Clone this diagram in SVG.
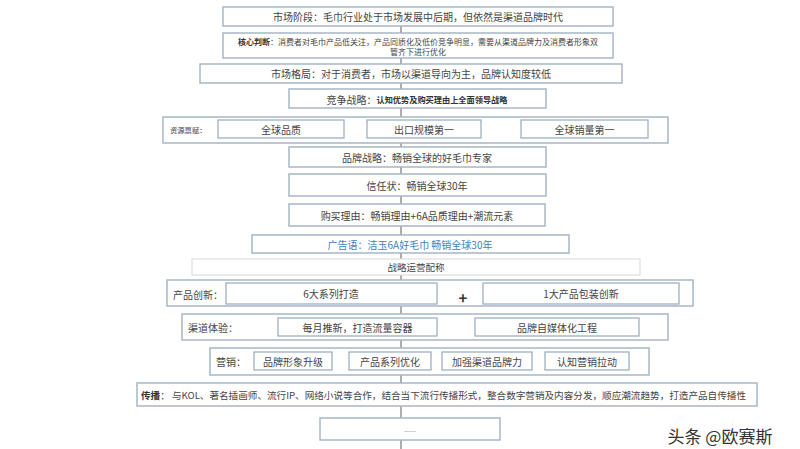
<svg xmlns="http://www.w3.org/2000/svg" width="800" height="449" viewBox="0 0 800 449">
<style>
text{font-family:"Noto Sans CJK SC","Noto Sans",sans-serif;fill:#444;text-anchor:middle;dominant-baseline:central}
.b{fill:#fff;stroke:#a7b6c6;stroke-width:1.5}
.bi{fill:#fff;stroke:#9fb0c3;stroke-width:1.3}
.bl{fill:#fff;stroke:#dedede;stroke-width:1.2}
.t10{font-size:10px}
.t8{font-size:8.2px}
.bold{font-weight:bold;fill:#333}
.lbl{text-anchor:start}
.conn line{stroke:#777;stroke-width:1.2}
</style>
<rect width="800" height="449" fill="#fff"/>
<g class="conn">
<line x1="401" y1="26" x2="401" y2="33"/>
<line x1="401" y1="58" x2="401" y2="64"/>
<line x1="401" y1="83" x2="401" y2="89"/>
<line x1="401" y1="108" x2="401" y2="117"/>
<line x1="401" y1="143" x2="401" y2="147"/>
<line x1="401" y1="167" x2="401" y2="174"/>
<line x1="401" y1="196" x2="401" y2="204"/>
<line x1="401" y1="226" x2="401" y2="235"/>
<line x1="401" y1="253" x2="401" y2="259"/>
<line x1="401" y1="275" x2="401" y2="280"/>
<line x1="401" y1="306" x2="401" y2="314"/>
<line x1="401" y1="340" x2="401" y2="348"/>
<line x1="401" y1="375" x2="401" y2="383"/>
<line x1="401" y1="406" x2="401" y2="418"/>
<line x1="401" y1="440" x2="401" y2="449"/>
</g>
<g id="n-stage">
<rect class="b" x="223" y="7" width="390" height="19"/>
<text class="t10" x="418" y="16.5">市场阶段：毛巾行业处于市场发展中后期，但依然是渠道品牌时代</text>
</g>
<g id="n-core">
<rect class="b" x="223" y="33" width="390" height="25"/>
<text x="418" y="41" style="font-size:8px"><tspan class="bold">核心判断</tspan>：消费者对毛巾产品低关注，产品同质化及低价竞争明显，需要从渠道品牌力及消费者形象双</text>
<text x="418" y="51.5" style="font-size:8px">管齐下进行优化</text>
</g>
<g id="n-pattern">
<rect class="b" x="200" y="64" width="422" height="19"/>
<text class="t10" x="411" y="73.5">市场格局：对于消费者，市场以渠道导向为主，品牌认知度较低</text>
</g>
<g id="n-compete">
<rect class="b" x="289" y="89" width="257" height="19"/>
<text x="417" y="98.5"><tspan class="t10">竞争战略：</tspan><tspan class="t8 bold">认知优势及购买理由上全面领导战略</tspan></text>
</g>
<g id="n-resource">
<rect class="b" x="163" y="117" width="505" height="26"/>
<text class="lbl" x="170" y="130" style="font-size:7.3px">资源禀赋：</text>
<rect class="bi" x="218" y="120" width="126" height="18"/>
<text class="t10" x="281" y="129">全球品质</text>
<rect class="bi" x="367" y="120" width="114" height="18"/>
<text class="t10" x="424" y="129">出口规模第一</text>
<rect class="bi" x="521" y="120" width="127" height="18"/>
<text class="t10" x="584.5" y="129">全球销量第一</text>
</g>
<g id="n-brand">
<rect class="b" x="289" y="147" width="257" height="20"/>
<text class="t10" x="417" y="157">品牌战略：畅销全球的好毛巾专家</text>
</g>
<g id="n-trust">
<rect class="b" x="289" y="174" width="257" height="22"/>
<text class="t10" x="417" y="185">信任状：畅销全球30年</text>
</g>
<g id="n-reason">
<rect class="b" x="289" y="204" width="256" height="22"/>
<text class="t10" x="417" y="215">购买理由：畅销理由+6A品质理由+潮流元素</text>
</g>
<g id="n-slogan">
<rect class="b" x="252" y="235" width="317" height="18"/>
<text class="t10" x="410" y="244" style="fill:#3f7fc0">广告语：洁玉6A好毛巾 畅销全球30年</text>
</g>
<g id="n-ops">
<rect class="bl" x="192" y="259" width="448" height="16"/>
<text class="t10" x="416" y="267" style="font-size:9.5px">战略运营配称</text>
</g>
<g id="n-product">
<rect class="b" x="167" y="280" width="526" height="26"/>
<text class="lbl t10" x="173" y="294">产品创新：</text>
<rect class="bi" x="226" y="283" width="211" height="21"/>
<text class="t10" x="331" y="293.5">6大系列打造</text>
<text x="463" y="297" style="font-size:15px;font-weight:bold;fill:#333">+</text>
<rect class="bi" x="483" y="283" width="196" height="21"/>
<text class="t10" x="581" y="293.5">1大产品包装创新</text>
</g>
<g id="n-channel">
<rect class="b" x="182" y="314" width="486" height="26"/>
<text class="lbl t10" x="188" y="327">渠道体验：</text>
<rect class="bi" x="278" y="318" width="159" height="18"/>
<text class="t10" x="357.5" y="327">每月推新，打造流量容器</text>
<rect class="bi" x="475" y="318" width="164" height="18"/>
<text class="t10" x="557" y="327">品牌自媒体化工程</text>
</g>
<g id="n-marketing">
<rect class="b" x="210" y="348" width="439" height="27"/>
<text class="lbl t10" x="216" y="361.5">营销：</text>
<rect class="bi" x="254" y="352" width="78" height="18"/>
<text class="t10" x="293" y="361">品牌形象升级</text>
<rect class="bi" x="349" y="352" width="82" height="18"/>
<text class="t10" x="390" y="361">产品系列优化</text>
<rect class="bi" x="442" y="352" width="90" height="18"/>
<text class="t10" x="487" y="361">加强渠道品牌力</text>
<rect class="bi" x="545" y="352" width="84" height="18"/>
<text class="t10" x="587" y="361">认知营销拉动</text>
</g>
<g id="n-spread">
<rect class="b" x="137" y="383" width="620" height="23"/>
<text class="lbl" x="141" y="394.5" style="font-size:9.6px"><tspan class="bold">传播</tspan>： 与KOL、著名插画师、流行IP、网络小说等合作，结合当下流行传播形式，整合数字营销及内容分发，顺应潮流趋势，打造产品自传播性</text>
</g>
<g id="n-more">
<rect class="b" x="320" y="418" width="180" height="22"/>
<text x="410" y="429" style="font-size:7px;fill:#888">......</text>
</g>
<text x="720" y="435" style="font-size:17px;fill:#333">头条 @欧赛斯</text>
</svg>
